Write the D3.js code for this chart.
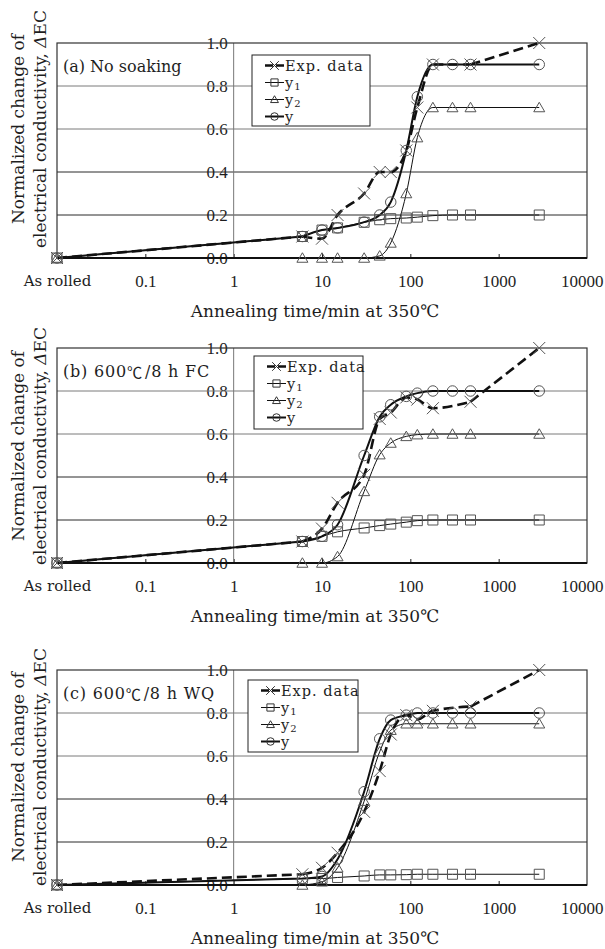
<!DOCTYPE html>
<html><head><meta charset="utf-8">
<script src="https://cdn.jsdelivr.net/npm/d3@7"></script>
<style>body{margin:0;background:#fff}</style>
</head><body>
<svg id="chart" width="605" height="949"></svg>
<script>
// ---------- data ----------
const xTickValues = [0.01, 0.1, 1, 10, 100, 1000, 10000];
const xTickLabels = ["As rolled", "0.1", "1", "10", "100", "1000", "10000"];
const yTickValues = [0, 0.2, 0.4, 0.6, 0.8, 1.0];
// "As rolled" is plotted at 0.01 min
const modelTimes = [0.01, 6, 10, 15, 30, 45, 60, 90, 120, 180, 300, 480, 2880];
const expTimes   = [0.01, 6, 10, 15, 30, 45, 60, 90, 120, 180, 480, 2880];

const panelTitles = [["(a) No soaking", ""], ["(b) 600", "/8 h FC"], ["(c) 600", "/8 h WQ"]];
const seriesNames = ["Exp. data", "y1", "y2", "y"];

const expA = [0, 0.10, 0.09, 0.20, 0.30, 0.40, 0.40, 0.50, 0.70, 0.90, 0.90, 1.00];
const y1A  = [0, 0.10, 0.13, 0.14, 0.166, 0.178, 0.183, 0.186, 0.19, 0.197, 0.20, 0.20, 0.20];
const y2A  = [0, 0, 0, 0, 0, 0.01, 0.07, 0.30, 0.56, 0.70, 0.70, 0.70, 0.70];
const yA   = [0, 0.10, 0.13, 0.14, 0.167, 0.20, 0.26, 0.50, 0.75, 0.90, 0.90, 0.90, 0.90];

const expB = [0, 0.10, 0.16, 0.28, 0.41, 0.67, 0.70, 0.77, 0.76, 0.72, 0.75, 1.00];
const y1B  = [0, 0.10, 0.124, 0.145, 0.163, 0.174, 0.181, 0.19, 0.197, 0.20, 0.20, 0.20, 0.20];
const y2B  = [0, 0, 0, 0.03, 0.333, 0.504, 0.558, 0.589, 0.597, 0.60, 0.60, 0.60, 0.60];
const yB   = [0, 0.10, 0.124, 0.178, 0.50, 0.68, 0.736, 0.775, 0.79, 0.80, 0.80, 0.80, 0.80];

const expC = [0, 0.05, 0.08, 0.15, 0.34, 0.53, 0.70, 0.79, 0.77, 0.81, 0.83, 1.00];
const y1C  = [0, 0.03, 0.03, 0.035, 0.042, 0.047, 0.047, 0.048, 0.05, 0.05, 0.05, 0.05, 0.05];
const y2C  = [0, 0, 0.015, 0.08, 0.39, 0.62, 0.72, 0.75, 0.75, 0.75, 0.75, 0.75, 0.75];
const yC   = [0, 0.03, 0.04, 0.12, 0.434, 0.68, 0.767, 0.79, 0.80, 0.80, 0.80, 0.80, 0.80];

// ---------- layout ----------
const panels = [
  {top: 43,  exp: expA, y1: y1A, y2: y2A, y: yA, title: panelTitles[0], leg: {x: 252, dy: 12, w: 118, h: 71}, ytitle: 129},
  {top: 348, exp: expB, y1: y1B, y2: y2B, y: yB, title: panelTitles[1], leg: {x: 254, dy: 8,  w: 109, h: 73}, ytitle: 446},
  {top: 670, exp: expC, y1: y1C, y2: y2C, y: yC, title: panelTitles[2], leg: {x: 248, dy: 10, w: 110, h: 72}, ytitle: 767}
];
const plotLeft = 57, plotRight = 587, plotH = 215;
const serif = "'DejaVu Serif', serif";
const numFont = "'Liberation Serif', 'Times New Roman', serif";
const cjk = "'Noto Sans CJK JP', sans-serif";
const ink = "#1e1e1e";
const markColor = "#555";

const svg = d3.select("#chart");
svg.append("rect").attr("width", 605).attr("height", 949).attr("fill", "#fff");

const x = d3.scaleLog().domain([0.01, 10000]).range([plotLeft, plotRight]);

function mark(type, h) {
  if (type === "square") return `M${-h},${-h}H${h}V${h}H${-h}Z`;
  if (type === "triangle") return `M0,${-h*1.05}L${h*1.1},${h*0.85}L${-h*1.1},${h*0.85}Z`;
  if (type === "circle") { const r = h*1.05; return `M${r},0A${r},${r} 0 1,1 ${-r},0A${r},${r} 0 1,1 ${r},0Z`; }
  if (type === "cross") { const c = h*1.2; return `M${-c},${-c}L${c},${c}M${-c},${c}L${c},${-c}`; }
}

panels.forEach(p => {
  const top = p.top, bottom = top + plotH;
  const y = d3.scaleLinear().domain([0, 1]).range([bottom, top]);
  const g = svg.append("g");

  // y tick labels (axis located at x = 1)
  const yAxis = d3.axisLeft(y).tickValues(yTickValues).tickFormat(d3.format(".1f")).tickSize(0).tickPadding(6);
  const ya = g.append("g").attr("transform", `translate(${x(1)},0)`).call(yAxis);
  ya.select(".domain").remove();
  ya.selectAll("text").attr("font-family", numFont).attr("font-size", 17).attr("fill", ink).attr("dy", "0.33em");

  // x axis
  const xAxis = d3.axisBottom(x).tickValues(xTickValues).tickFormat((d, i) => xTickLabels[i]).tickSize(-4);
  const xa = g.append("g").attr("transform", `translate(0,${bottom})`).call(xAxis);
  xa.select(".domain").remove();
  xa.selectAll("line").attr("stroke", ink);
  xa.selectAll("text").attr("y", 23).attr("dy", "0.33em")
    .attr("font-family", numFont).attr("font-size", 17).attr("fill", ink);
  xa.selectAll(".tick").filter(d => d === 0.01 || d === 10000).select("line").remove();
  xa.selectAll(".tick").filter(d => d === 10000).select("text").attr("text-anchor", "end").attr("x", 16);
  xa.selectAll(".tick").filter(d => d === 0.01).select("text").attr("font-family", serif).attr("font-size", 15);

  // horizontal gridlines
  g.selectAll(".grid").data(yTickValues.filter(v => v > 0 && v < 1)).join("line")
    .attr("x1", plotLeft).attr("x2", plotRight)
    .attr("y1", d => y(d)).attr("y2", d => y(d))
    .attr("stroke", d => d >= 0.6 ? "#7a7a7a" : "#2a2a2a").attr("stroke-width", 1);
  g.append("line").attr("x1", x(1)).attr("x2", x(1)).attr("y1", top).attr("y2", bottom)
    .attr("stroke", "#777").attr("stroke-width", 1);
  g.append("rect").attr("x", plotLeft).attr("y", top).attr("width", plotRight - plotLeft).attr("height", plotH)
    .attr("fill", "none").attr("stroke", "#333").attr("stroke-width", 1.2);
  g.append("line").attr("x1", plotLeft).attr("x2", plotRight).attr("y1", bottom).attr("y2", bottom)
    .attr("stroke", "#111").attr("stroke-width", 2);

  // x title
  g.append("text").attr("x", 315).attr("y", bottom + 53).attr("text-anchor", "middle").attr("dominant-baseline", "central")
    .attr("font-family", serif).attr("font-size", 17).attr("fill", ink)
    .text("Annealing time/min at 350\u2103");

  // y title
  const yt = g.append("text").attr("transform", `translate(18,${p.ytitle}) rotate(-90)`)
    .attr("text-anchor", "middle").attr("dominant-baseline", "central")
    .attr("font-family", serif).attr("font-size", 17).attr("fill", ink);
  yt.append("tspan").attr("x", 0).attr("y", 0).text("Normalized change of");
  yt.append("tspan").attr("x", 0).attr("y", 22).text("electrical conductivity, ");
  yt.append("tspan").attr("font-style", "italic").text("\u0394");
  yt.append("tspan").text("EC");

  // panel label
  const pt = g.append("text").attr("x", 63).attr("y", top + 23).attr("dominant-baseline", "central")
    .attr("font-family", serif).attr("font-size", 16).attr("fill", ink);
  pt.append("tspan").text(p.title[0]);
  if (p.title[1]) {
    pt.append("tspan").attr("font-family", cjk).attr("font-size", "0.95em").text("\u2103");
    pt.append("tspan").attr("dx", 2).text(p.title[1]);
    pt.attr("letter-spacing", 0.8);
  }

  // series
  const series = [
    {vals: p.exp, times: expTimes, type: "cross", width: 2.6, dash: "10,5"},
    {vals: p.y1, times: modelTimes, type: "square", width: 1, dash: null},
    {vals: p.y2, times: modelTimes, type: "triangle", width: 1, dash: null},
    {vals: p.y, times: modelTimes, type: "circle", width: 2, dash: null}
  ];
  const lineSmooth = d3.line().x(d => x(d[0])).y(d => y(d[1])).curve(d3.curveMonotoneX);
  const lineStraight = d3.line().x(d => x(d[0])).y(d => y(d[1]));
  const dg = g.append("g");
  series.forEach(s => {
    const pts = s.times.map((t, i) => [t, s.vals[i]]);
    const n = pts.length;
    const d = lineStraight(pts.slice(0, 2)) + lineSmooth(pts.slice(1, n - 1)) + lineStraight(pts.slice(n - 2));
    dg.append("path").attr("d", d)
      .attr("fill", "none").attr("stroke", "#111").attr("stroke-width", s.width)
      .attr("stroke-dasharray", s.dash).attr("stroke-linejoin", "round");
  });
  series.forEach(s => {
    const pts = s.times.map((t, i) => [t, s.vals[i]]);
    dg.selectAll(null).data(pts).join("path")
      .attr("transform", d => `translate(${x(d[0])},${y(d[1])})`)
      .attr("d", mark(s.type, 5))
      .attr("fill", "none").attr("stroke", markColor).attr("stroke-width", 1);
  });

  // legend
  const L = p.leg, ly = top + L.dy;
  const lg = g.append("g");
  lg.append("rect").attr("x", L.x).attr("y", ly).attr("width", L.w).attr("height", L.h)
    .attr("fill", "#fff").attr("stroke", "#222").attr("stroke-width", 1);
  const rowY = [10.5, 27.5, 44.5, 61.5];
  series.forEach((s, i) => {
    const cy = ly + rowY[i];
    const x0 = L.x + 13, x1 = L.x + 32, cx = (x0 + x1) / 2;
    lg.append("line").attr("x1", x0).attr("x2", x1).attr("y1", cy).attr("y2", cy)
      .attr("stroke", "#111").attr("stroke-width", i === 0 ? 2.4 : (i === 3 ? 2 : 1))
      .attr("stroke-dasharray", i === 0 ? "8,3" : null);
    lg.append("path").attr("transform", `translate(${cx},${cy})`).attr("d", mark(s.type, 3.6))
      .attr("fill", "none").attr("stroke", "#333").attr("stroke-width", 1);
    const t = lg.append("text").attr("x", x1 + 1).attr("y", cy).attr("dominant-baseline", "central")
      .attr("font-family", serif).attr("font-size", 14.5).attr("letter-spacing", 1).attr("fill", ink);
    const name = seriesNames[i];
    if (name === "y1" || name === "y2") {
      t.append("tspan").text("y");
      t.append("tspan").attr("font-size", 10).attr("dy", 3).text(name.slice(1));
    } else {
      t.text(name);
    }
  });
});
</script>
</body></html>
